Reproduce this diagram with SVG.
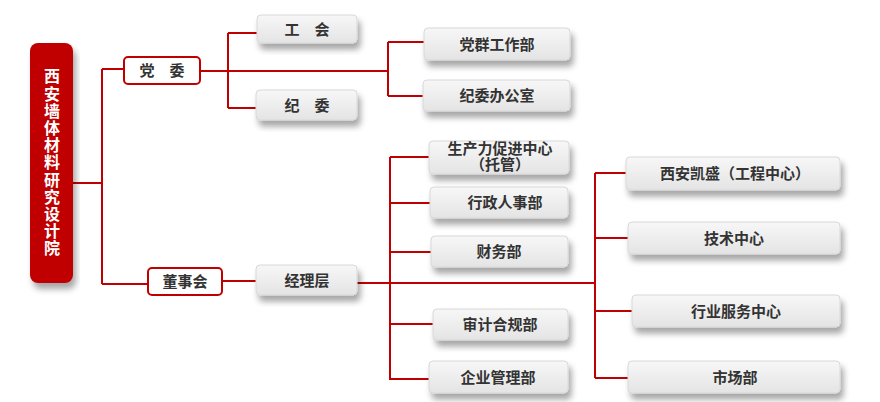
<svg xmlns="http://www.w3.org/2000/svg" width="880" height="402" viewBox="0 0 880 402">
<defs>
<linearGradient id="g" x1="0" y1="0" x2="0" y2="1"><stop offset="0" stop-color="#f7f7f7"/><stop offset="1" stop-color="#e4e4e4"/></linearGradient>
<filter id="sh" x="-10%" y="-20%" width="125%" height="160%"><feDropShadow dx="3" dy="6" stdDeviation="3" flood-color="#000" flood-opacity="0.35"/></filter>
</defs>
<style>
.b{fill:url(#g);stroke:#d8d8d8;stroke-width:1;filter:url(#sh)}
.r{fill:#fff;stroke:#c00000;stroke-width:2}
.t{font-family:"Noto Sans CJK SC","Noto Sans",sans-serif;font-weight:bold;fill:#333;font-size:15px;text-anchor:middle}
.c{fill:none;stroke:#c00000;stroke-width:2}
</style>
<g id="connectors">
<path class="c" d="M73,183H102M102,69V284M102,69H124M102,284H148"/>
<path class="c" d="M200,71H388M228,33V108M228,33H257M228,108H256M388,42V96M388,42H424M388,96H423"/>
<path class="c" d="M222,281H256M357,283H595M390,157V380M390,157H429M390,203H430M390,252H431M390,324H433M390,379H429"/>
<path class="c" d="M595,173V378M595,173H626M595,238H628M595,311H632M595,378H628"/>
</g>
<g id="root"><rect x="30" y="43" width="43" height="240" rx="8" fill="#c00000" filter="url(#sh)"/>
<text x="52" y="163" writing-mode="tb" glyph-orientation-vertical="0" letter-spacing="1.2" font-family="Noto Sans CJK SC,sans-serif" font-weight="bold" font-size="16" fill="#fff" text-anchor="middle">西安墙体材料研究设计院</text></g>
<g id="dangwei"><rect class="r" x="124" y="57" width="76" height="27" rx="4"/><text class="t" x="162" y="76">党　委</text></g>
<g id="dongshihui"><rect class="r" x="148" y="268" width="74" height="27" rx="4"/><text class="t" x="185" y="287">董事会</text></g>
<g id="gonghui"><rect class="b" x="257" y="15" width="100" height="28" rx="4"/><text class="t" x="307" y="35">工　会</text></g>
<g id="jiwei"><rect class="b" x="256" y="90" width="101" height="30" rx="4"/><text class="t" x="307" y="111">纪　委</text></g>
<g id="jingliceng"><rect class="b" x="256" y="265" width="101" height="30" rx="4"/><text class="t" x="307" y="286">经理层</text></g>
<g id="dangqun"><rect class="b" x="424" y="28" width="146" height="32" rx="4"/><text class="t" x="497" y="50">党群工作部</text></g>
<g id="jiweiban"><rect class="b" x="423" y="80" width="147" height="31" rx="4"/><text class="t" x="497" y="101">纪委办公室</text></g>
<g id="shengchanli"><rect class="b" x="429" y="141" width="140" height="33" rx="4"/><text class="t" x="500" y="154" font-size="12">生产力促进中心</text><text class="t" x="500" y="170" font-size="12">（托管）</text></g>
<g id="xingzheng"><rect class="b" x="430" y="187" width="138" height="31" rx="4"/><text class="t" x="505" y="208">行政人事部</text></g>
<g id="caiwu"><rect class="b" x="431" y="236" width="137" height="31" rx="4"/><text class="t" x="499" y="257">财务部</text></g>
<g id="shenji"><rect class="b" x="433" y="309" width="135" height="31" rx="4"/><text class="t" x="500" y="330">审计合规部</text></g>
<g id="qiye"><rect class="b" x="429" y="361" width="139" height="32" rx="4"/><text class="t" x="498" y="383">企业管理部</text></g>
<g id="kaisheng"><rect class="b" x="626" y="157" width="214" height="33" rx="4"/><text class="t" x="735" y="179">西安凯盛（工程中心）</text></g>
<g id="jishu"><rect class="b" x="628" y="222" width="212" height="32" rx="4"/><text class="t" x="734" y="244">技术中心</text></g>
<g id="hangye"><rect class="b" x="632" y="295" width="208" height="32" rx="4"/><text class="t" x="736" y="317">行业服务中心</text></g>
<g id="shichang"><rect class="b" x="628" y="361" width="212" height="32" rx="4"/><text class="t" x="735" y="383">市场部</text></g>
</svg>
